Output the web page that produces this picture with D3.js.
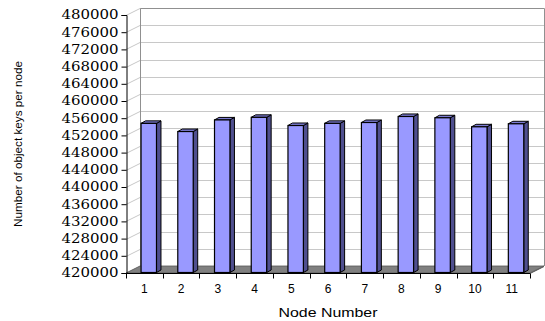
<!DOCTYPE html>
<html>
<head>
<meta charset="utf-8">
<script src="https://cdn.jsdelivr.net/npm/d3@7"></script>
<style>
  html, body { margin: 0; padding: 0; background: #fff; }
  svg { display: block; }
</style>
</head>
<body>
<svg id="chart" width="545" height="321"></svg>
<script>
// Object keys stored on each node
const nodes = ["1", "2", "3", "4", "5", "6", "7", "8", "9", "10", "11"];
const keysPerNode = [454800, 452900, 455600, 456200, 454300, 454800, 455000, 456400, 456100, 454000, 454700];
const yTicks = [420000, 424000, 428000, 432000, 436000, 440000, 444000, 448000,
                452000, 456000, 460000, 464000, 468000, 472000, 476000, 480000];

(function () {
const svg = d3.select("#chart");

// Front plane of the 3D plot and the depth offset to its back wall
const plotLeft = 126, plotRight = 530, plotTop = 15, plotBottom = 273;
const depthX = 14, depthY = -7;
// Depth of each bar column
const barDX = 4.5, barDY = -2.5;

const x = d3.scaleBand().domain(nodes).range([plotLeft, plotRight]);
const y = d3.scaleLinear().domain([420000, 480000]).range([plotBottom, plotTop]);

// Back wall
svg.append("rect")
  .attr("x", plotLeft + depthX).attr("y", plotTop + depthY)
  .attr("width", plotRight - plotLeft).attr("height", plotBottom - plotTop)
  .attr("fill", "#fff").attr("stroke", "none");

// Gridlines on the back wall and the left side wall
const grid = svg.append("g").attr("stroke", "#c8c8c8").attr("stroke-width", 1).attr("fill", "none");
yTicks.forEach(t => {
  const yy = Math.round(y(t)) + 0.5;
  grid.append("line")
    .attr("x1", plotLeft + depthX).attr("x2", plotRight + depthX)
    .attr("y1", yy + depthY).attr("y2", yy + depthY);
  grid.append("line")
    .attr("x1", plotLeft).attr("x2", plotLeft + depthX)
    .attr("y1", yy).attr("y2", yy + depthY);
});

// Back wall outline
svg.append("path")
  .attr("d", `M${plotLeft + depthX + 0.5},${plotBottom + depthY} V${plotTop + depthY + 0.5} H${plotRight + depthX + 0.5} V${plotBottom + depthY}`)
  .attr("fill", "none").attr("stroke", "#909090").attr("stroke-width", 1);

// Floor
svg.append("path")
  .attr("d", `M${plotLeft},${plotBottom} L${plotRight},${plotBottom} L${plotRight + depthX},${plotBottom + depthY} L${plotLeft + depthX},${plotBottom + depthY} Z`)
  .attr("fill", "#808080").attr("stroke", "#555").attr("stroke-width", 0.8);

// Bars: front face, top and right side
const bars = svg.append("g").selectAll("g")
  .data(nodes.map((n, i) => ({ node: n, value: keysPerNode[i] })))
  .join("g");

const bw = x.bandwidth() * 0.42;
const bx = d => x(d.node) + x.bandwidth() * 0.41;
const by0 = plotBottom - 0.5;

bars.append("path") // side
  .attr("d", d => {
    const x1 = bx(d) + bw, yt = y(d.value);
    return `M${x1},${by0} L${x1 + barDX},${by0 + barDY} L${x1 + barDX},${yt + barDY} L${x1},${yt} Z`;
  })
  .attr("fill", "#4f4f8f").attr("stroke", "#000").attr("stroke-width", 1).attr("stroke-linejoin", "round");

bars.append("path") // top
  .attr("d", d => {
    const x0 = bx(d), yt = y(d.value);
    return `M${x0},${yt} L${x0 + barDX},${yt + barDY} L${x0 + bw + barDX},${yt + barDY} L${x0 + bw},${yt} Z`;
  })
  .attr("fill", "#7b7bd2").attr("stroke", "#000").attr("stroke-width", 1).attr("stroke-linejoin", "round");

bars.append("rect") // front
  .attr("x", d => bx(d)).attr("y", d => y(d.value))
  .attr("width", bw).attr("height", d => by0 - y(d.value))
  .attr("fill", "#9999ff").attr("stroke", "#000").attr("stroke-width", 1.2);

// Front value axis
const yAxis = d3.axisLeft(y).tickValues(yTicks).tickSize(5).tickPadding(3).tickFormat(d3.format("d"));
const gy = svg.append("g").attr("transform", `translate(${plotLeft + 0.5},0)`).call(yAxis);
gy.select(".domain").attr("stroke", "#000");
gy.selectAll(".tick line").attr("stroke", "#000");
gy.selectAll(".tick text")
  .attr("font-family", "'DejaVu Serif', serif").attr("font-size", 12).attr("fill", "#000")
  .attr("textLength", 57).attr("lengthAdjust", "spacingAndGlyphs");

// Category axis with ticks between the columns
const gx = svg.append("g").attr("transform", `translate(0,${plotBottom + 0.5})`);
gx.append("line").attr("x1", plotLeft).attr("x2", plotRight).attr("stroke", "#000");
gx.append("line").attr("x1", plotRight).attr("x2", plotRight + depthX)
  .attr("y1", 0).attr("y2", depthY).attr("stroke", "#555");
nodes.forEach(n => {
  const tx = Math.round(x(n) + x.bandwidth()) + 0.5;
  gx.append("line").attr("x1", tx).attr("x2", tx).attr("y1", 0).attr("y2", 5).attr("stroke", "#000");
});
gx.append("line").attr("x1", plotLeft + 0.5).attr("x2", plotLeft + 0.5).attr("y1", 0).attr("y2", 5).attr("stroke", "#000");
gx.selectAll("text.cat").data(nodes).join("text")
  .attr("class", "cat")
  .attr("x", d => x(d) + x.bandwidth() / 2)
  .attr("y", 19.5)
  .attr("text-anchor", "middle")
  .attr("font-family", "'Liberation Sans', Arial, sans-serif").attr("font-size", 12).attr("fill", "#000")
  .text(d => d);

// Axis titles
svg.append("text")
  .attr("x", 328).attr("y", 317)
  .attr("text-anchor", "middle")
  .attr("font-family", "'Liberation Sans', Arial, sans-serif").attr("font-size", 12).attr("fill", "#000")
  .attr("textLength", 99).attr("lengthAdjust", "spacingAndGlyphs")
  .text("Node Number");

svg.append("text")
  .attr("transform", "translate(22,144) rotate(-90)")
  .attr("text-anchor", "middle")
  .attr("font-family", "'Liberation Sans Narrow', 'Liberation Sans', Arial, sans-serif").attr("font-size", 11).attr("fill", "#000")
  .attr("textLength", 166).attr("lengthAdjust", "spacingAndGlyphs")
  .text("Number of object keys per node");
})();
</script>
</body>
</html>
